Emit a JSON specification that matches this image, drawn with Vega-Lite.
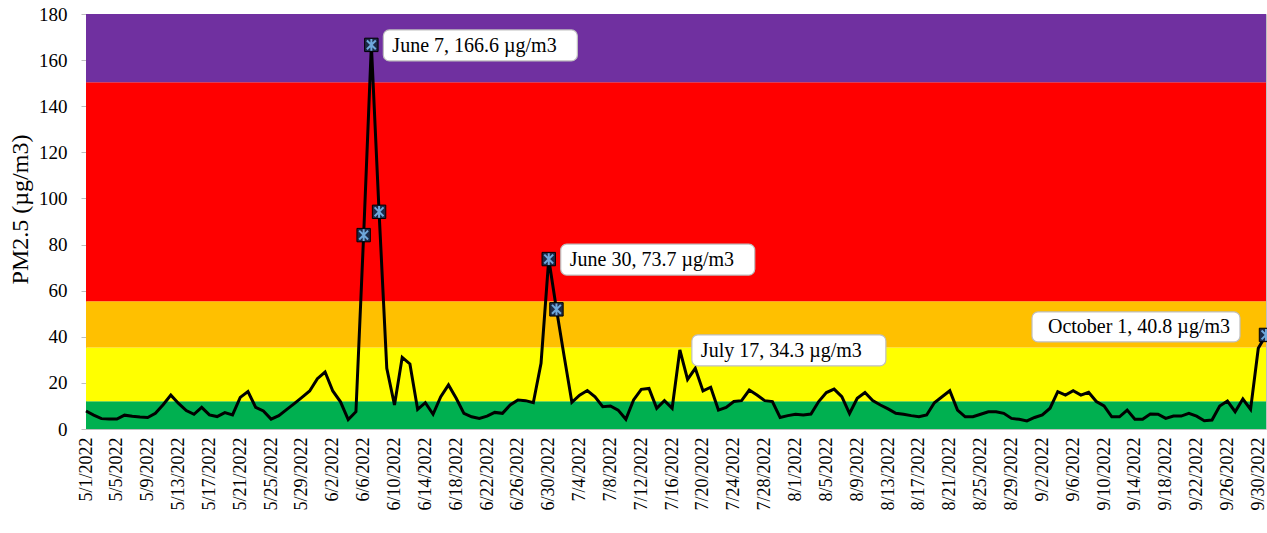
{
  "$schema": "https://vega.github.io/schema/vega-lite/v6.json",
  "autosize": {"type": "none"},
  "padding": {"left": 86, "top": 14, "right": 1, "bottom": 104},
  "width": 1180,
  "height": 415,
  "background": "white",
  "config": {
    "view": {"stroke": "#bfbfbf", "strokeWidth": 1},
    "font": "Liberation Serif"
  },
  "datasets": {
    "bands": [
      {"date": "5/1/2022", "end": "10/1/2022", "pm": 0, "hi": 12, "cat": "Good"},
      {"date": "5/1/2022", "end": "10/1/2022", "pm": 12, "hi": 35.4, "cat": "Moderate"},
      {"date": "5/1/2022", "end": "10/1/2022", "pm": 35.4, "hi": 55.4, "cat": "USG"},
      {"date": "5/1/2022", "end": "10/1/2022", "pm": 55.4, "hi": 150.4, "cat": "Unhealthy"},
      {"date": "5/1/2022", "end": "10/1/2022", "pm": 150.4, "hi": 180, "cat": "Very Unhealthy"}
    ],
    "pm": [
      {"date": "5/1/2022", "pm": 7.8}, {"date": "5/2/2022", "pm": 6.0}, {"date": "5/3/2022", "pm": 4.5}, {"date": "5/4/2022", "pm": 4.3},
      {"date": "5/5/2022", "pm": 4.3}, {"date": "5/6/2022", "pm": 6.0}, {"date": "5/7/2022", "pm": 5.5}, {"date": "5/8/2022", "pm": 5.2},
      {"date": "5/9/2022", "pm": 5.0}, {"date": "5/10/2022", "pm": 6.8}, {"date": "5/11/2022", "pm": 10.5}, {"date": "5/12/2022", "pm": 14.7},
      {"date": "5/13/2022", "pm": 11.1}, {"date": "5/14/2022", "pm": 8.0}, {"date": "5/15/2022", "pm": 6.4}, {"date": "5/16/2022", "pm": 9.4},
      {"date": "5/17/2022", "pm": 6.1}, {"date": "5/18/2022", "pm": 5.4}, {"date": "5/19/2022", "pm": 7.1}, {"date": "5/20/2022", "pm": 6.1},
      {"date": "5/21/2022", "pm": 13.7}, {"date": "5/22/2022", "pm": 16.2}, {"date": "5/23/2022", "pm": 9.4}, {"date": "5/24/2022", "pm": 7.8},
      {"date": "5/25/2022", "pm": 4.3}, {"date": "5/26/2022", "pm": 5.8}, {"date": "5/27/2022", "pm": 8.4}, {"date": "5/28/2022", "pm": 11.0},
      {"date": "5/29/2022", "pm": 13.7}, {"date": "5/30/2022", "pm": 16.5}, {"date": "5/31/2022", "pm": 21.8},
      {"date": "6/1/2022", "pm": 24.7}, {"date": "6/2/2022", "pm": 16.5}, {"date": "6/3/2022", "pm": 11.8}, {"date": "6/4/2022", "pm": 4.1},
      {"date": "6/5/2022", "pm": 7.5}, {"date": "6/6/2022", "pm": 84.1}, {"date": "6/7/2022", "pm": 166.6}, {"date": "6/8/2022", "pm": 94.2},
      {"date": "6/9/2022", "pm": 26.3}, {"date": "6/10/2022", "pm": 10.4}, {"date": "6/11/2022", "pm": 31.1}, {"date": "6/12/2022", "pm": 28.2},
      {"date": "6/13/2022", "pm": 8.5}, {"date": "6/14/2022", "pm": 11.4}, {"date": "6/15/2022", "pm": 6.4}, {"date": "6/16/2022", "pm": 14.0},
      {"date": "6/17/2022", "pm": 19.1}, {"date": "6/18/2022", "pm": 13.3}, {"date": "6/19/2022", "pm": 6.8}, {"date": "6/20/2022", "pm": 5.3},
      {"date": "6/21/2022", "pm": 4.6}, {"date": "6/22/2022", "pm": 5.6}, {"date": "6/23/2022", "pm": 7.2}, {"date": "6/24/2022", "pm": 6.8},
      {"date": "6/25/2022", "pm": 10.4}, {"date": "6/26/2022", "pm": 12.6}, {"date": "6/27/2022", "pm": 12.3}, {"date": "6/28/2022", "pm": 11.4},
      {"date": "6/29/2022", "pm": 28.5}, {"date": "6/30/2022", "pm": 73.7},
      {"date": "7/1/2022", "pm": 51.9}, {"date": "7/2/2022", "pm": 31.5}, {"date": "7/3/2022", "pm": 11.6}, {"date": "7/4/2022", "pm": 14.7},
      {"date": "7/5/2022", "pm": 16.7}, {"date": "7/6/2022", "pm": 14.0}, {"date": "7/7/2022", "pm": 9.7}, {"date": "7/8/2022", "pm": 10.0},
      {"date": "7/9/2022", "pm": 8.2}, {"date": "7/10/2022", "pm": 4.2}, {"date": "7/11/2022", "pm": 12.6}, {"date": "7/12/2022", "pm": 17.2},
      {"date": "7/13/2022", "pm": 17.6}, {"date": "7/14/2022", "pm": 9.0}, {"date": "7/15/2022", "pm": 12.3}, {"date": "7/16/2022", "pm": 9.0},
      {"date": "7/17/2022", "pm": 34.3}, {"date": "7/18/2022", "pm": 21.5}, {"date": "7/19/2022", "pm": 26.3}, {"date": "7/20/2022", "pm": 16.5},
      {"date": "7/21/2022", "pm": 18.1}, {"date": "7/22/2022", "pm": 8.2}, {"date": "7/23/2022", "pm": 9.4}, {"date": "7/24/2022", "pm": 11.9},
      {"date": "7/25/2022", "pm": 12.3}, {"date": "7/26/2022", "pm": 16.9}, {"date": "7/27/2022", "pm": 14.7}, {"date": "7/28/2022", "pm": 12.3},
      {"date": "7/29/2022", "pm": 11.9}, {"date": "7/30/2022", "pm": 5.0}, {"date": "7/31/2022", "pm": 5.8},
      {"date": "8/1/2022", "pm": 6.4}, {"date": "8/2/2022", "pm": 6.1}, {"date": "8/3/2022", "pm": 6.5}, {"date": "8/4/2022", "pm": 11.9},
      {"date": "8/5/2022", "pm": 15.8}, {"date": "8/6/2022", "pm": 17.3}, {"date": "8/7/2022", "pm": 14.0}, {"date": "8/8/2022", "pm": 6.7},
      {"date": "8/9/2022", "pm": 13.3}, {"date": "8/10/2022", "pm": 15.8}, {"date": "8/11/2022", "pm": 12.3}, {"date": "8/12/2022", "pm": 10.4},
      {"date": "8/13/2022", "pm": 8.7}, {"date": "8/14/2022", "pm": 6.8}, {"date": "8/15/2022", "pm": 6.4}, {"date": "8/16/2022", "pm": 5.8},
      {"date": "8/17/2022", "pm": 5.3}, {"date": "8/18/2022", "pm": 6.1}, {"date": "8/19/2022", "pm": 11.4}, {"date": "8/20/2022", "pm": 14.0},
      {"date": "8/21/2022", "pm": 16.6}, {"date": "8/22/2022", "pm": 8.2}, {"date": "8/23/2022", "pm": 5.3}, {"date": "8/24/2022", "pm": 5.3},
      {"date": "8/25/2022", "pm": 6.4}, {"date": "8/26/2022", "pm": 7.5}, {"date": "8/27/2022", "pm": 7.5}, {"date": "8/28/2022", "pm": 6.8},
      {"date": "8/29/2022", "pm": 4.6}, {"date": "8/30/2022", "pm": 4.2}, {"date": "8/31/2022", "pm": 3.5},
      {"date": "9/1/2022", "pm": 5.0}, {"date": "9/2/2022", "pm": 6.1}, {"date": "9/3/2022", "pm": 9.0}, {"date": "9/4/2022", "pm": 16.2},
      {"date": "9/5/2022", "pm": 14.7}, {"date": "9/6/2022", "pm": 16.6}, {"date": "9/7/2022", "pm": 14.7}, {"date": "9/8/2022", "pm": 15.9},
      {"date": "9/9/2022", "pm": 11.9}, {"date": "9/10/2022", "pm": 10.0}, {"date": "9/11/2022", "pm": 5.3}, {"date": "9/12/2022", "pm": 5.3},
      {"date": "9/13/2022", "pm": 8.2}, {"date": "9/14/2022", "pm": 4.2}, {"date": "9/15/2022", "pm": 4.2}, {"date": "9/16/2022", "pm": 6.5},
      {"date": "9/17/2022", "pm": 6.4}, {"date": "9/18/2022", "pm": 4.6}, {"date": "9/19/2022", "pm": 5.6}, {"date": "9/20/2022", "pm": 5.6},
      {"date": "9/21/2022", "pm": 6.8}, {"date": "9/22/2022", "pm": 5.6}, {"date": "9/23/2022", "pm": 3.6}, {"date": "9/24/2022", "pm": 3.9},
      {"date": "9/25/2022", "pm": 10.0}, {"date": "9/26/2022", "pm": 12.1}, {"date": "9/27/2022", "pm": 7.5}, {"date": "9/28/2022", "pm": 13.0},
      {"date": "9/29/2022", "pm": 8.5}, {"date": "9/30/2022", "pm": 35.0}, {"date": "10/1/2022", "pm": 40.8}
    ],
    "markers": [
      {"date": "6/6/2022", "pm": 84.1}, {"date": "6/7/2022", "pm": 166.6}, {"date": "6/8/2022", "pm": 94.2},
      {"date": "6/30/2022", "pm": 73.7}, {"date": "7/1/2022", "pm": 51.9}, {"date": "10/1/2022", "pm": 40.8}
    ],
    "notes": [
      {"date": "6/7/2022", "pm": 166.6, "label": "June 7, 166.6 µg/m3", "side": "right"},
      {"date": "6/30/2022", "pm": 73.7, "label": "June 30, 73.7 µg/m3", "side": "right"},
      {"date": "7/17/2022", "pm": 34.3, "label": "July 17, 34.3 µg/m3", "side": "right"},
      {"date": "10/1/2022", "pm": 40.8, "label": "October 1, 40.8 µg/m3", "side": "left"}
    ]
  },
  "encoding": {
    "x": {"field": "date", "type": "temporal",
      "scale": {"domain": [{"year": 2022, "month": 5, "date": 1}, {"year": 2022, "month": 10, "date": 1}], "nice": false},
      "axis": {
        "title": null, "format": "%-m/%-d/%Y", "labelAngle": -90, "labelAlign": "right", "labelBaseline": "middle",
        "labelFont": "Liberation Serif", "labelColor": "#000000", "grid": false,
        "labelFontSize": 18, "labelPadding": 8, "ticks": false, "domain": false, "labelOverlap": false, "labelBound": false, "labelFlush": false,
        "values": [
          {"year": 2022, "month": 5, "date": 1}, {"year": 2022, "month": 5, "date": 5}, {"year": 2022, "month": 5, "date": 9},
          {"year": 2022, "month": 5, "date": 13}, {"year": 2022, "month": 5, "date": 17}, {"year": 2022, "month": 5, "date": 21},
          {"year": 2022, "month": 5, "date": 25}, {"year": 2022, "month": 5, "date": 29}, {"year": 2022, "month": 6, "date": 2},
          {"year": 2022, "month": 6, "date": 6}, {"year": 2022, "month": 6, "date": 10}, {"year": 2022, "month": 6, "date": 14},
          {"year": 2022, "month": 6, "date": 18}, {"year": 2022, "month": 6, "date": 22}, {"year": 2022, "month": 6, "date": 26},
          {"year": 2022, "month": 6, "date": 30}, {"year": 2022, "month": 7, "date": 4}, {"year": 2022, "month": 7, "date": 8},
          {"year": 2022, "month": 7, "date": 12}, {"year": 2022, "month": 7, "date": 16}, {"year": 2022, "month": 7, "date": 20},
          {"year": 2022, "month": 7, "date": 24}, {"year": 2022, "month": 7, "date": 28}, {"year": 2022, "month": 8, "date": 1},
          {"year": 2022, "month": 8, "date": 5}, {"year": 2022, "month": 8, "date": 9}, {"year": 2022, "month": 8, "date": 13},
          {"year": 2022, "month": 8, "date": 17}, {"year": 2022, "month": 8, "date": 21}, {"year": 2022, "month": 8, "date": 25},
          {"year": 2022, "month": 8, "date": 29}, {"year": 2022, "month": 9, "date": 2}, {"year": 2022, "month": 9, "date": 6},
          {"year": 2022, "month": 9, "date": 10}, {"year": 2022, "month": 9, "date": 14}, {"year": 2022, "month": 9, "date": 18},
          {"year": 2022, "month": 9, "date": 22}, {"year": 2022, "month": 9, "date": 26}, {"year": 2022, "month": 9, "date": 30}
        ]
      }
    },
    "y": {"field": "pm", "type": "quantitative", "scale": {"domain": [0, 180], "nice": false},
      "axis": {"title": "PM2.5 (µg/m3)", "titleFont": "Liberation Serif", "titleFontSize": 24, "titleFontWeight": "normal", "titleColor": "#000000", "titlePadding": 6, "titleY": 195,
        "labelFont": "Liberation Serif", "labelColor": "#000000", "grid": false,
        "values": [0, 20, 40, 60, 80, 100, 120, 140, 160, 180], "labelFontSize": 19, "labelPadding": 14, "tickSize": 5,
        "tickColor": "#bfbfbf", "domainColor": "#bfbfbf", "labelBaseline": "middle"}}
  },
  "layer": [
    {
      "data": {"name": "bands"},
      "mark": {"type": "rect"},
      "encoding": {
        "x2": {"field": "end"},
        "y2": {"field": "hi"},
        "color": {"field": "cat", "type": "nominal", "legend": null,
          "scale": {"domain": ["Good", "Moderate", "USG", "Unhealthy", "Very Unhealthy"], "range": ["#00B050", "#FFFF00", "#FFC000", "#FF0000", "#7030A0"]}}
      }
    },
    {
      "data": {"name": "pm"},
      "mark": {"type": "line", "color": "#000000", "strokeWidth": 3, "strokeJoin": "miter"}
    },
    {
      "data": {"name": "markers"},
      "mark": {"type": "point", "shape": "square", "filled": true, "size": 180, "fill": "#1c2a48", "stroke": "#000000", "strokeWidth": 1, "opacity": 1}
    },
    {
      "data": {"name": "markers"},
      "mark": {"type": "point", "shape": "M-0.75,-0.75L0.75,0.75M-0.75,0.75L0.75,-0.75M0,-1L0,1", "filled": false, "size": 140, "stroke": "#6fa8dc", "strokeWidth": 2, "opacity": 1}
    },
    {
      "data": {"name": "notes"},
      "transform": [{"filter": "datum.side === 'right'"}],
      "mark": {"type": "rect", "fill": "#ffffff", "stroke": "#bfbfbf", "strokeWidth": 1.2, "cornerRadius": 6, "xOffset": 12, "x2Offset": 206, "yOffset": -15, "y2Offset": 16},
      "encoding": {
        "x2": {"field": "date"},
        "y2": {"field": "pm"}
      }
    },
    {
      "data": {"name": "notes"},
      "transform": [{"filter": "datum.side === 'left'"}],
      "mark": {"type": "rect", "fill": "#ffffff", "stroke": "#bfbfbf", "strokeWidth": 1.2, "cornerRadius": 6, "xOffset": -234, "x2Offset": -26, "yOffset": -23, "y2Offset": 7},
      "encoding": {
        "x2": {"field": "date"},
        "y2": {"field": "pm"}
      }
    },
    {
      "data": {"name": "notes"},
      "transform": [{"filter": "datum.side === 'right'"}],
      "mark": {"type": "text", "font": "Liberation Serif", "fontSize": 20, "color": "#000000", "align": "left", "baseline": "middle", "dx": 21, "dy": 1},
      "encoding": {"text": {"field": "label"}}
    },
    {
      "data": {"name": "notes"},
      "transform": [{"filter": "datum.side === 'left'"}],
      "mark": {"type": "text", "font": "Liberation Serif", "fontSize": 20, "color": "#000000", "align": "right", "baseline": "middle", "dx": -36, "dy": -8},
      "encoding": {"text": {"field": "label"}}
    }
  ]
}
